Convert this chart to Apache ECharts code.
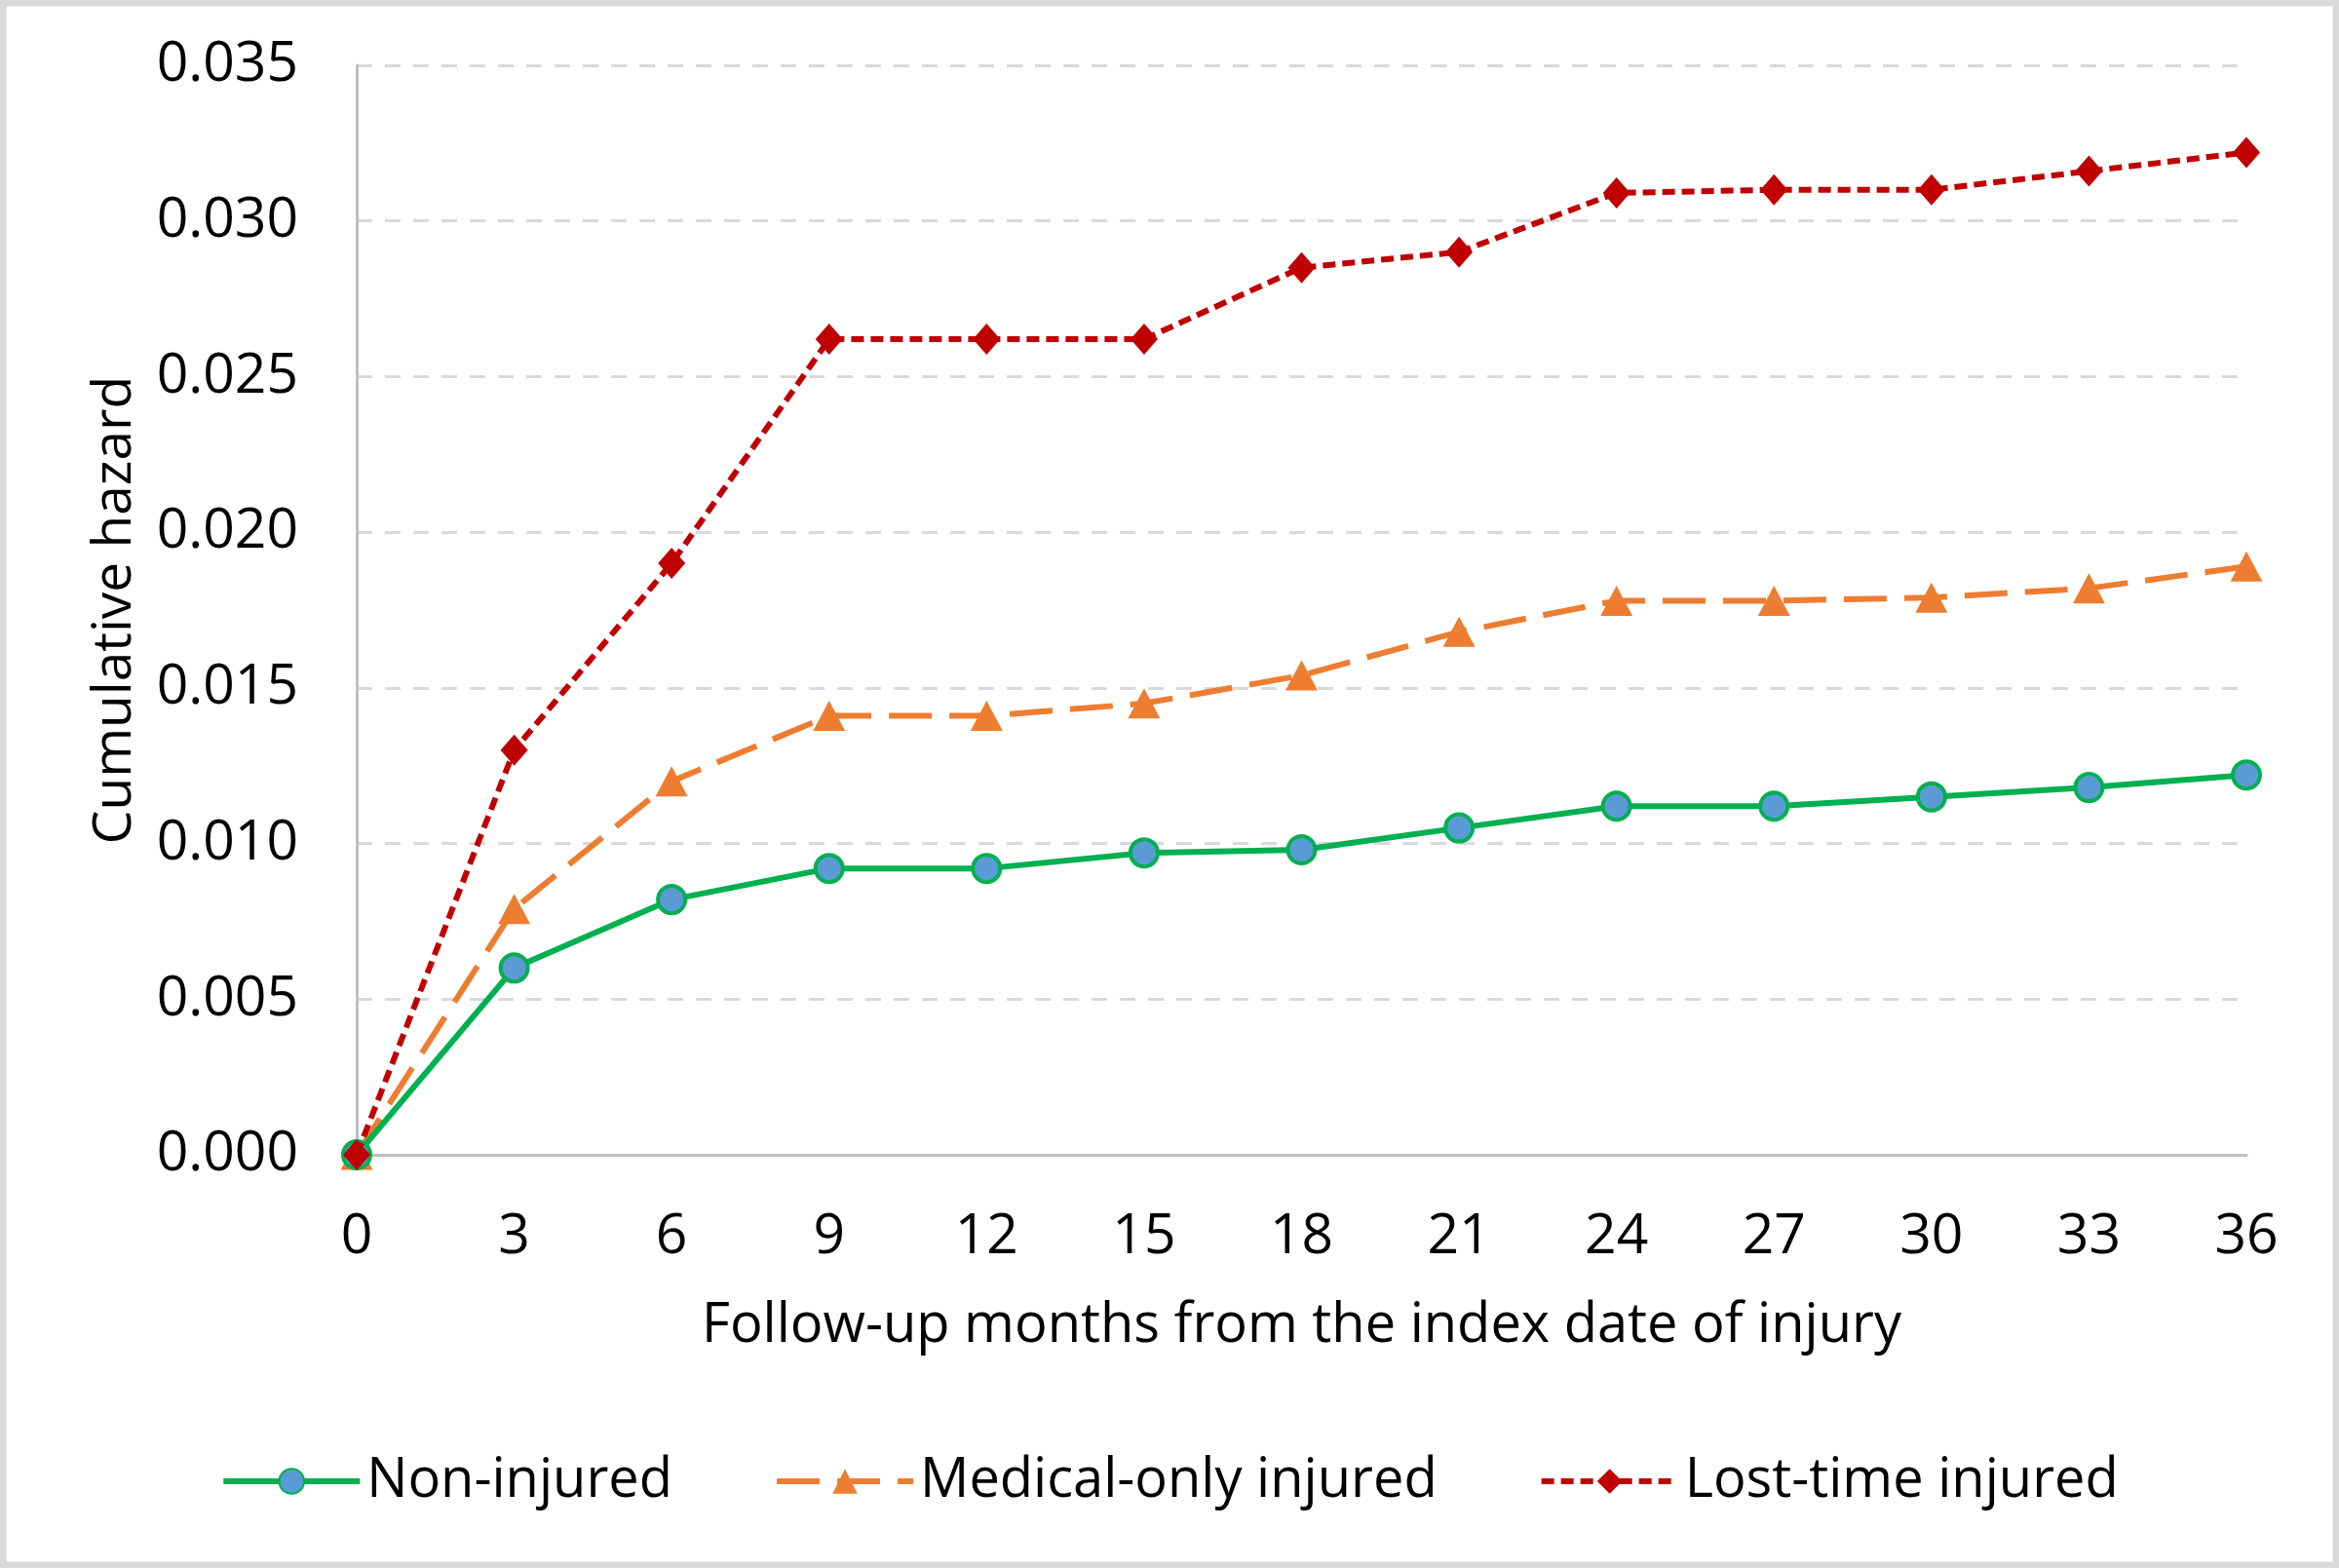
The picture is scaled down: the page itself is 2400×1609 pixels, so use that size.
<!DOCTYPE html>
<html>
<head>
<meta charset="utf-8">
<script src="https://cdn.jsdelivr.net/npm/echarts@6/dist/echarts.min.js"></script>
<style>
html,body{margin:0;padding:0;background:#fff;}
#chart{width:2400px;height:1609px;}
</style>
</head>
<body>
<div id="chart"></div>
<script>
const months = [0, 3, 6, 9, 12, 15, 18, 21, 24, 27, 30, 33, 36];
const nonInjured = [0, 0.0060, 0.0082, 0.0092, 0.0092, 0.0097, 0.0098, 0.0105, 0.0112, 0.0112, 0.0115, 0.0118, 0.0122];
const medicalOnly = [0, 0.0079, 0.0120, 0.0141, 0.0141, 0.0145, 0.0154, 0.0168, 0.0178, 0.0178, 0.0179, 0.0182, 0.0189];
const lostTime = [0, 0.0130, 0.0190, 0.0262, 0.0262, 0.0262, 0.0285, 0.0290, 0.0309, 0.0310, 0.0310, 0.0316, 0.0322];
const seriesNames = ['Non-injured', 'Medical-only injured', 'Lost-time injured'];
const yTicks = [0, 0.005, 0.010, 0.015, 0.020, 0.025, 0.030, 0.035];
const xTitle = 'Follow-up months from the index date of injury';
const yTitle = 'Cumulative hazard';

const pairs = arr => months.map((m, i) => [m, arr[i]]);
const FONT = 'Open Sans';

const chart = echarts.init(document.getElementById('chart'), null, {renderer: 'canvas'});
chart.setOption({
  animation: false,
  backgroundColor: '#ffffff',
  textStyle: {fontFamily: FONT, color: '#000'},
  graphic: [{
    type: 'rect', z: 100, silent: true,
    shape: {x: 3, y: 3, width: 2394, height: 1603},
    style: {fill: 'none', stroke: '#d9d9d9', lineWidth: 7}
  }],
  grid: {left: 366, right: 95, top: 67, bottom: 424, containLabel: false},
  legend: {
    bottom: 56, left: 'center',
    itemWidth: 140, itemHeight: 32, itemGap: 104,
    lineStyle: {width: 6},
    textStyle: {fontFamily: FONT, fontSize: 56, color: '#000', padding: [0, 0, 0, 2]},
    data: seriesNames
  },
  xAxis: {
    type: 'value', min: 0, max: 36, interval: 3,
    name: xTitle, nameLocation: 'middle', nameGap: 148,
    nameTextStyle: {fontFamily: FONT, fontSize: 56, color: '#000'},
    axisLine: {show: true, onZero: false, lineStyle: {color: '#bfbfbf', width: 3}},
    axisTick: {show: false},
    splitLine: {show: false},
    axisLabel: {fontFamily: FONT, fontSize: 57, color: '#000', margin: 56}
  },
  yAxis: {
    type: 'value', min: 0, max: 0.035, interval: 0.005,
    name: yTitle, nameLocation: 'middle', nameGap: 220, nameRotate: 90,
    nameTextStyle: {fontFamily: FONT, fontSize: 55, color: '#000'},
    axisLine: {show: true, lineStyle: {color: '#bfbfbf', width: 3}},
    axisTick: {show: false},
    splitLine: {show: true, lineStyle: {color: '#d9d9d9', width: 3, type: [16, 13]}},
    axisLabel: {fontFamily: FONT, fontSize: 57, color: '#000', margin: 60,
      formatter: v => yTicks.reduce((a, t) => Math.abs(t - v) < 1e-9 ? t.toFixed(3) : a, v.toFixed(3))}
  },
  series: [
    {
      name: seriesNames[0], type: 'line', data: pairs(nonInjured), z: 3,
      symbol: 'circle', symbolSize: 28,
      lineStyle: {color: '#00b050', width: 6, type: 'solid'},
      itemStyle: {color: '#5b9bd5', borderColor: '#00b050', borderWidth: 4}
    },
    {
      name: seriesNames[1], type: 'line', data: pairs(medicalOnly), z: 2,
      symbol: 'triangle', symbolSize: [33, 31],
      lineStyle: {color: '#ed7d31', width: 6, type: [44, 18]},
      itemStyle: {color: '#ed7d31', borderWidth: 0}
    },
    {
      name: seriesNames[2], type: 'line', data: pairs(lostTime), z: 4,
      symbol: 'diamond', symbolSize: [28, 32],
      lineStyle: {color: '#c00000', width: 6, type: [13, 7]},
      itemStyle: {color: '#c00000', borderWidth: 0}
    }
  ]
});
</script>
</body>
</html>
